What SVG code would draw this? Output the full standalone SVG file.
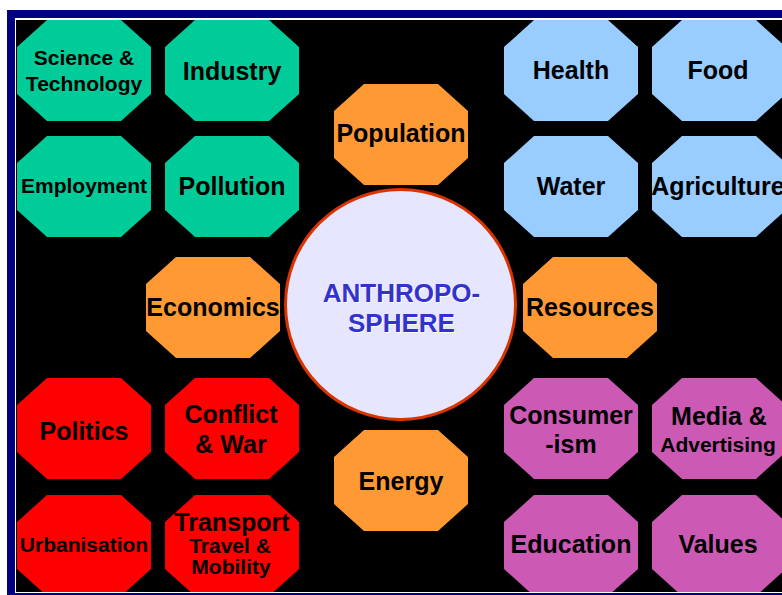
<svg xmlns="http://www.w3.org/2000/svg" xmlns:xlink="http://www.w3.org/1999/xlink" width="782" height="595" viewBox="0 0 782 595">
<style>
  .lbl{font-family:"Liberation Sans",Arial,sans-serif;font-weight:bold;fill:#000;text-anchor:middle}
  .big{font-size:25px}
  .sm{font-size:21px}
  .g{fill:#00CC99}
  .b{fill:#99CCFF}
  .o{fill:#FF9933}
  .r{fill:#FF0000}
  .m{fill:#CC5AB5}
  .core{font-family:"Liberation Sans",Arial,sans-serif;font-weight:bold;font-size:26px;text-anchor:middle}
</style>
<defs>
  <polygon id="oct" points="30,0 104,0 134,27 134,74 104,101 30,101 0,74 0,27"/>
  <clipPath id="inner"><rect x="16" y="20" width="770" height="572"/></clipPath>
</defs>
<rect x="0" y="0" width="782" height="595" fill="#FFFFFF"/>
<rect x="7" y="10" width="800" height="600" fill="#000080"/>
<rect x="15" y="18" width="800" height="575" fill="#FFFFFF"/>
<rect x="16" y="20" width="800" height="572" fill="#000000"/>
<g id="connectors"></g>
<g clip-path="url(#inner)">
  <g id="science"><use xlink:href="#oct" x="17" y="20" class="g"/><text class="lbl sm" x="84" y="65">Science &amp;</text><text class="lbl sm" x="84" y="91">Technology</text></g>
  <g id="industry"><use xlink:href="#oct" x="165" y="20" class="g"/><text class="lbl big" x="232" y="80">Industry</text></g>
  <g id="employment"><use xlink:href="#oct" x="17" y="136" class="g"/><text class="lbl sm" x="84" y="193">Employment</text></g>
  <g id="pollution"><use xlink:href="#oct" x="165" y="136" class="g"/><text class="lbl big" x="232" y="195">Pollution</text></g>

  <g id="health"><use xlink:href="#oct" x="504" y="20" class="b"/><text class="lbl big" x="571" y="79">Health</text></g>
  <g id="food"><use xlink:href="#oct" x="652" y="20" class="b"/><text class="lbl big" x="718" y="79">Food</text></g>
  <g id="water"><use xlink:href="#oct" x="504" y="136" class="b"/><text class="lbl big" x="571" y="195">Water</text></g>
  <g id="agriculture"><use xlink:href="#oct" x="652" y="136" class="b"/><text class="lbl big" x="718" y="195">Agriculture</text></g>

  <g id="population"><use xlink:href="#oct" x="334" y="84" class="o"/><text class="lbl big" x="401" y="142">Population</text></g>
  <g id="economics"><use xlink:href="#oct" x="146" y="257" class="o"/><text class="lbl big" x="213" y="316">Economics</text></g>
  <g id="resources"><use xlink:href="#oct" x="523" y="257" class="o"/><text class="lbl big" x="590" y="316">Resources</text></g>
  <g id="energy"><use xlink:href="#oct" x="334" y="430" class="o"/><text class="lbl big" x="401" y="490">Energy</text></g>

  <g id="politics"><use xlink:href="#oct" x="17" y="378" class="r"/><text class="lbl big" x="84" y="440">Politics</text></g>
  <g id="conflict"><use xlink:href="#oct" x="165" y="378" class="r"/><text class="lbl big" x="231" y="423">Conflict</text><text class="lbl big" x="231" y="453">&amp; War</text></g>
  <g id="urbanisation"><use xlink:href="#oct" x="17" y="495" class="r"/><text class="lbl sm" x="84" y="552">Urbanisation</text></g>
  <g id="transport"><use xlink:href="#oct" x="165" y="495" class="r"/><text class="lbl big" x="232" y="531">Transport</text><text class="lbl sm" x="230" y="553">Travel &amp;</text><text class="lbl sm" x="231" y="574">Mobility</text></g>

  <g id="consumerism"><use xlink:href="#oct" x="504" y="378" class="m"/><text class="lbl big" x="571" y="424">Consumer</text><text class="lbl big" x="571" y="453">-ism</text></g>
  <g id="media"><use xlink:href="#oct" x="652" y="378" class="m"/><text class="lbl big" x="719" y="425">Media &amp;</text><text class="lbl sm" x="718" y="452">Advertising</text></g>
  <g id="education"><use xlink:href="#oct" x="504" y="495" class="m"/><text class="lbl big" x="571" y="553">Education</text></g>
  <g id="values"><use xlink:href="#oct" x="652" y="495" class="m"/><text class="lbl big" x="718" y="553">Values</text></g>

  <g id="anthroposphere">
    <circle cx="400.5" cy="304.5" r="115" fill="#E6E6FF" stroke="#D93300" stroke-width="3"/>
    <text class="core" x="402.5" y="303" fill="#FFFFFF">ANTHROPO-</text>
    <text class="core" x="402.5" y="333" fill="#FFFFFF">SPHERE</text>
    <text class="core" x="401.5" y="302" fill="#3333CC">ANTHROPO-</text>
    <text class="core" x="401.5" y="332" fill="#3333CC">SPHERE</text>
  </g>
</g>
</svg>
